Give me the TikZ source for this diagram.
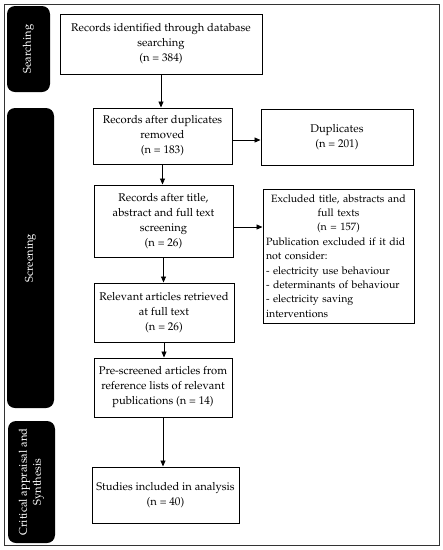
\documentclass[tikz,border=0pt]{standalone}
\usepackage[T1]{fontenc}
\usepackage{mathpazo}
\usetikzlibrary{arrows.meta}
\begin{document}
\begin{tikzpicture}[x=1pt,y=-1pt,
  box/.style={draw,line width=1pt,align=center,inner sep=2pt,font=\fontsize{11.2}{15}\selectfont},
  side/.style={fill=black,rounded corners=8pt},
  sidetext/.style={text=white,rotate=90,align=center,font=\fontsize{11.2}{14}\selectfont},
  arr/.style={-{Triangle[length=6pt,width=5pt]},line width=0.9pt}]
\useasboundingbox (0,0) rectangle (443,550);
\draw[line width=1pt,draw=black!80] (4,4) rectangle (439,545);
% side bars
\fill[side] (7,6) rectangle (50,92);
\fill[side] (7,108) rectangle (54,408);
\fill[side] (8,421) rectangle (55,543);
\node[sidetext] (ls) at (28.5,49) {Searching};
\node[sidetext] (lsc) at (30.5,258) {Screening};
\node[sidetext] (lc) at (31.5,482) {Critical appraisal and\\Synthesis};
% boxes
\node[box,minimum width=202pt,minimum height=60pt] (b1) at (161,44)
  {Records identified through database\\searching\\(n = 384)};
\node[box,minimum width=139pt,minimum height=56pt] (b2) at (162.5,136)
  {Records after duplicates\\removed\\(n = 183)};
\node[box,minimum width=152pt,minimum height=56pt] (dup) at (337,137)
  {Duplicates\\(n = 201)};
\node[box,minimum width=139pt,minimum height=72pt] (b3) at (163.5,221)
  {Records after title,\\abstract and full text\\screening\\(n = 26)};
\node[box,minimum width=151pt,minimum height=134pt,text width=145pt,inner xsep=3pt,align=left,font=\fontsize{10.6}{14.4}\selectfont] (ex) at (338.5,256)
  {{\centering Excluded title, abstracts and\\full texts\\(n = 157)\par}
   Publication excluded if it did\\not consider:\\- electricity use behaviour\\- determinants of behaviour\\- electricity saving\\interventions};
\node[box,minimum width=140pt,minimum height=59pt] (b4) at (164,312.5)
  {Relevant articles retrieved\\at full text\\(n = 26)};
\node[box,minimum width=138pt,minimum height=59pt] (b5) at (163,387.5)
  {Pre-screened articles from\\reference lists of relevant\\publications (n = 14)};
\node[box,minimum width=147pt,minimum height=56pt] (b6) at (165.5,495)
  {Studies included in analysis\\(n = 40)};
% arrows
\draw[arr] (b1.south) -- (b1.south |- b2.north);
\draw[arr] (b2.south) -- (b2.south |- b3.north);
\draw[arr] (b3.south) -- (b3.south |- b4.north);
\draw[arr] (b4.south) -- (b4.south |- b5.north);
\draw[arr] (b5.south) -- (b5.south |- b6.north);
\draw[arr] (b2.east |- 0,140) -- (dup.west |- 0,140);
\draw[arr] (b3.east |- 0,227) -- (ex.west |- 0,227);
\end{tikzpicture}
\end{document}
